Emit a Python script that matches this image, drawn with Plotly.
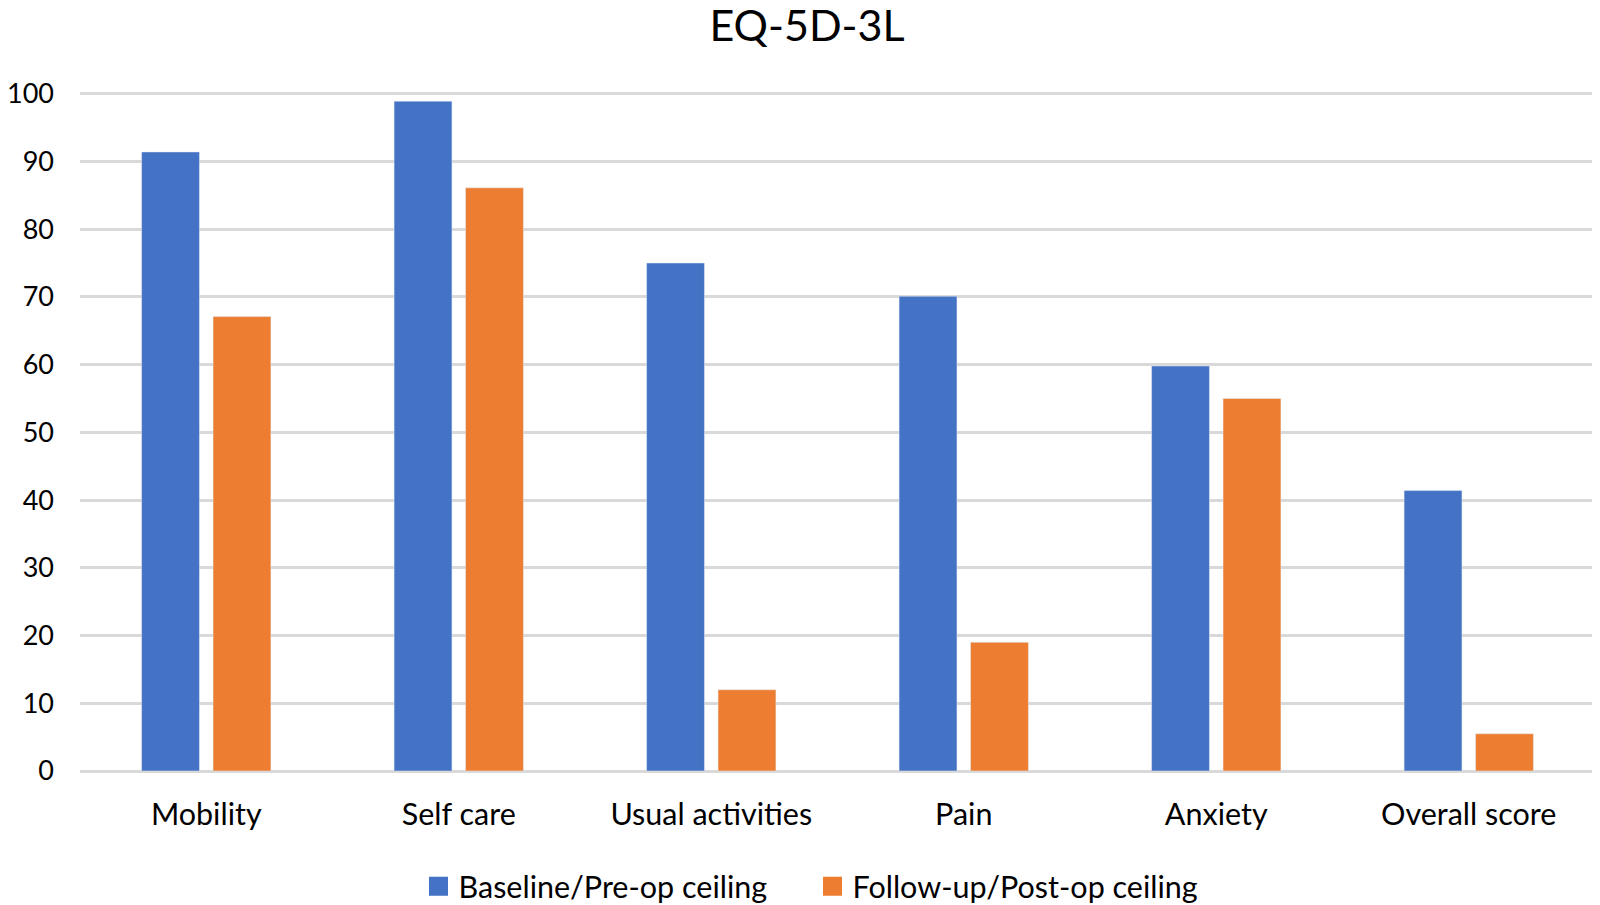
import plotly.graph_objects as go

categories = ["Mobility", "Self care", "Usual activities", "Pain", "Anxiety", "Overall score"]
baseline = [91.4, 98.9, 75.0, 70.1, 59.8, 41.4]
followup = [67.1, 86.1, 12.0, 19.0, 55.0, 5.5]
series_names = ["Baseline/Pre-op ceiling", "Follow-up/Post-op ceiling"]
series_colors = ["#4472C4", "#ED7D31"]
tick_vals = [0, 10, 20, 30, 40, 50, 60, 70, 80, 90, 100]

FONT = "Lato, 'Open Sans', sans-serif"
# the page body adds an 8px margin, so the figure is drawn 8px smaller
W, H = 1592, 897

fig = go.Figure()
for name, vals, col in zip(series_names, [baseline, followup], series_colors):
    fig.add_trace(go.Bar(x=categories, y=vals, name=name, marker_color=col,
                         legendgroup=name, showlegend=False))
    # legend swatch (larger square than the default bar swatch)
    fig.add_trace(go.Scatter(x=[None], y=[None], mode="markers", name=name, legendgroup=name,
                             marker=dict(symbol="square", size=16, color=col,
                                         line=dict(color=col, width=3)),
                             showlegend=True, hoverinfo="skip"))

fig.update_layout(
    width=W, height=H,
    paper_bgcolor="white", plot_bgcolor="white",
    margin=dict(l=72, r=5, t=83.3, b=133.5, autoexpand=False),
    barmode="group", bargap=0.434, bargroupgap=0.19,
    title=dict(text="EQ-5D-3L", x=799 / W, xanchor="center", xref="container",
               y=1 - 18 / H, yanchor="middle",
               font=dict(family=FONT, size=43, color="black")),
    font=dict(family=FONT, color="black"),
    showlegend=True,
    legend=dict(orientation="h", x=410.5 / W, xanchor="left", xref="container",
                y=1 - 878.5 / H, yanchor="middle", yref="container",
                font=dict(family=FONT, size=30.5, color="black"), itemwidth=30,
                entrywidth=349, entrywidthmode="pixels",
                itemsizing="trace", traceorder="normal"),
    xaxis=dict(showgrid=False, showline=False, ticks="", automargin=False,
               ticklabelstandoff=22,
               tickfont=dict(family=FONT, size=30.5, color="black")),
    yaxis=dict(range=[0, 100.4], tickvals=tick_vals, showgrid=True, gridcolor="#D9D9D9", gridwidth=3,
               zeroline=True, zerolinecolor="#D9D9D9", zerolinewidth=3, showline=False, ticks="",
               ticklabelstandoff=25, automargin=False,
               tickfont=dict(family=FONT, size=27, color="black")),
)

fig.write_html("out.html")
